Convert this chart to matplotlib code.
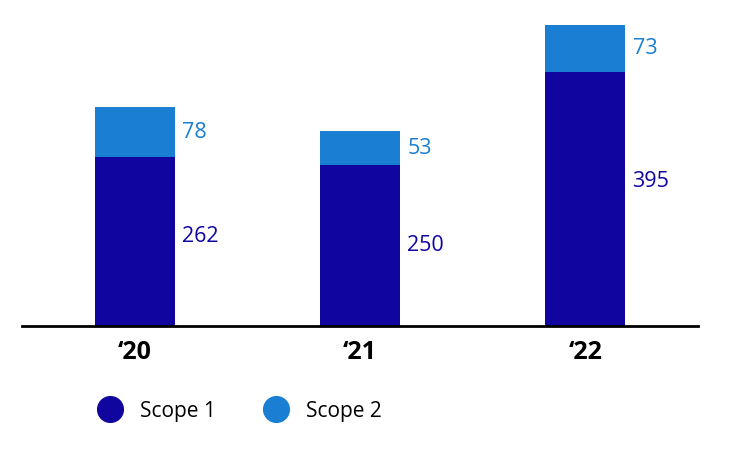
import matplotlib
matplotlib.use("Agg")
import matplotlib.pyplot as plt
from matplotlib.lines import Line2D

years = ["\u201820", "\u201821", "\u201822"]
scope1 = [262, 250, 395]
scope2 = [78, 53, 73]
# where the Scope 1 value sits inside its bar (fraction of the bar height)
label_frac = [0.53, 0.50, 0.57]

C1 = "#10069F"
C2 = "#1A7ED2"

plt.rcParams["font.family"] = ["Open Sans", "DejaVu Sans"]

fig = plt.figure(figsize=(7.5, 4.5), dpi=100)
ax = fig.add_axes([22 / 750, 1 - 326 / 450, 676 / 750, 301 / 450])

x = list(range(len(years)))
w = 0.355
ax.bar(x, scope1, width=w, color=C1)
ax.bar(x, scope2, width=w, bottom=scope1, color=C2)

for i in x:
    ax.text(i + w / 2 + 0.032, scope1[i] * label_frac[i], str(scope1[i]), color=C1,
            fontsize=15.5, fontweight="medium", va="center", ha="left")
    ax.text(i + w / 2 + 0.032, scope1[i] + scope2[i] * 0.5, str(scope2[i]), color=C2,
            fontsize=15.5, fontweight="medium", va="center", ha="left")

ax.set_xlim(-0.5, 2.5)
ax.set_ylim(0, 468)
for s in ["top", "right", "left"]:
    ax.spines[s].set_visible(False)
ax.spines["bottom"].set_linewidth(2)
ax.spines["bottom"].set_color("black")
ax.set_yticks([])
ax.set_xticks(x)
ax.set_xticklabels(years, fontsize=18, fontweight="bold")
ax.tick_params(axis="x", length=0, pad=10)

handles = [Line2D([], [], marker="o", ls="", color=C1, markersize=18.5),
           Line2D([], [], marker="o", ls="", color=C2, markersize=18.5)]
fig.legend(handles, ["Scope 1", "Scope 2"], loc="center left",
           bbox_to_anchor=(70 / 750, 1 - 411 / 450), ncol=2, frameon=False,
           fontsize=15, handletextpad=0.45, columnspacing=1.9)

fig.savefig("out.png", dpi=100)
